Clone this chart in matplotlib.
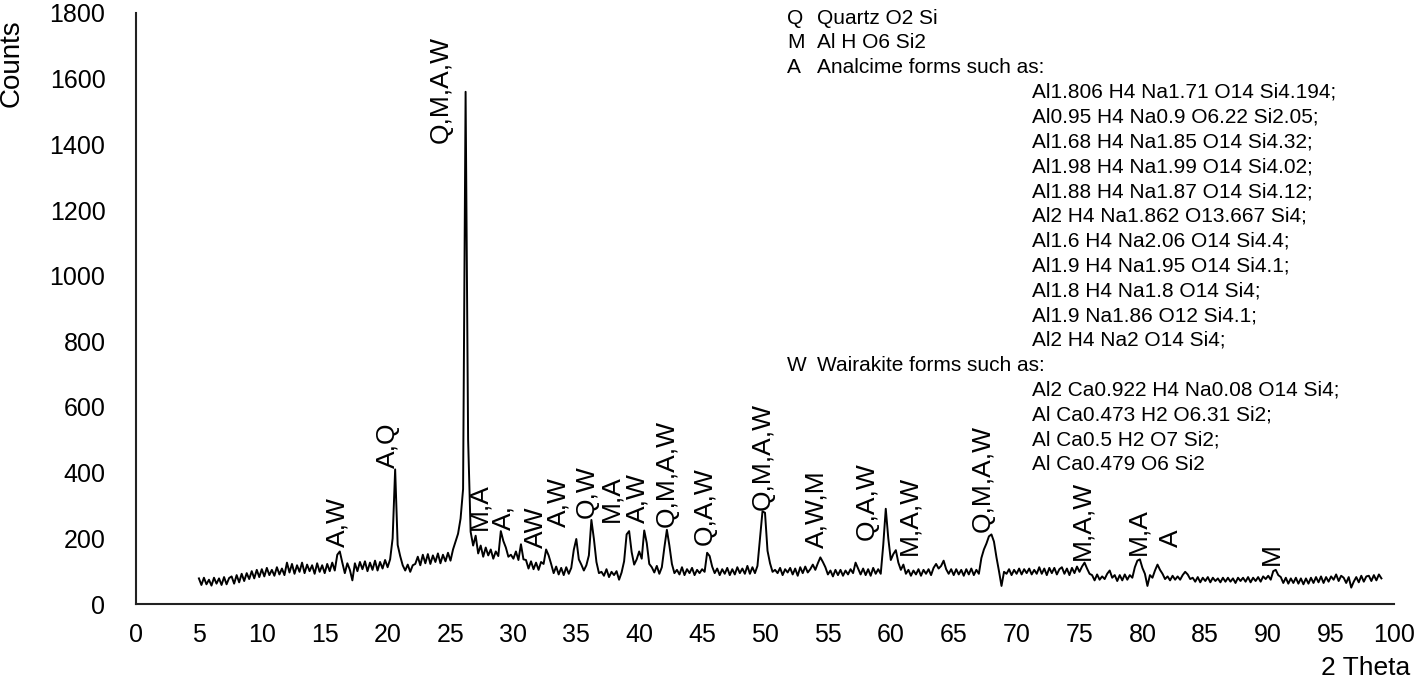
import matplotlib
matplotlib.use("Agg")
import matplotlib.pyplot as plt
import numpy as np

plt.rcParams['font.family'] = ['Liberation Sans', 'DejaVu Sans']

# XRD trace, every 0.2 degree from 5 to 99
two_theta = np.linspace(5.0, 99.0, 471)
counts = [
    78, 58, 80, 60, 74,  56, 80, 62, 78, 58,  82, 60, 79, 84, 62,   # 5-7.8
    88, 66, 92, 70, 94,  76, 100, 78, 104, 82,  106, 84, 110, 88, 104,  # 8-10.8
    86, 112, 90, 108, 88,  126, 96, 122, 92, 118,  98, 126, 94, 120, 100,  # 11-13.8
    118, 92, 124, 98, 118,  94, 122, 100, 126, 102,  150, 160, 126, 94, 124,  # 14-16.8
    104, 72, 124, 100, 128,  106, 130, 100, 126, 104,  132, 102, 128, 108, 134,  # 17-19.8
    112, 136, 200, 410, 180,  146, 118, 102, 120, 98,  118, 122, 144, 118, 150,  # 20-22.8
    124, 152, 122, 148, 128,  154, 124, 150, 130, 156,  132, 166, 190, 214, 260,  # 23-25.8
    350, 1560, 500, 220, 178,  208, 154, 178, 144, 172,  148, 166, 138, 160, 146,  # 26-28.8
    222, 192, 172, 144, 150,  138, 160, 134, 182, 136,  134, 108, 130, 106, 126,  # 29-31.8
    104, 128, 122, 166, 148,  122, 94, 114, 90, 110,  88, 112, 92, 110, 165,  # 32-34.8
    198, 136, 120, 102, 118,  148, 256, 198, 128, 94,  98, 86, 106, 82, 98,  # 35-37.8
    88, 100, 74, 96, 130,  212, 222, 158, 120, 136,  160, 138, 224, 186, 122,  # 38-40.8
    112, 96, 116, 92, 112,  172, 226, 178, 122, 94,  104, 90, 112, 88, 106,  # 41-43.8
    94, 110, 88, 104, 94,  106, 98, 156, 146, 114,  94, 108, 88, 106, 92,  # 44-46.8
    110, 88, 106, 90, 112,  94, 108, 92, 116, 92,  112, 94, 116, 200, 282,  # 47-49.8
    278, 162, 124, 98, 104,  94, 110, 88, 106, 96,  110, 90, 108, 86, 112,  # 50-52.8
    94, 114, 96, 106, 120,  104, 124, 142, 128, 112,  90, 102, 84, 104, 88,  # 53-55.8
    104, 86, 102, 90, 106,  94, 126, 108, 90, 108,  88, 106, 86, 110, 92,  # 56-58.8
    106, 92, 180, 290, 200,  134, 152, 164, 126, 104,  120, 92, 104, 86, 102,  # 59-61.8
    90, 106, 86, 104, 92,  106, 88, 110, 122, 108,  116, 132, 106, 92, 106,  # 62-64.8
    88, 106, 90, 104, 86,  106, 90, 108, 88, 104,  92, 140, 166, 184, 206,  # 65-67.8
    212, 190, 142, 100, 55,  98, 92, 106, 88, 104,  92, 108, 90, 106, 94,  # 68-70.8
    108, 90, 104, 92, 112,  92, 108, 88, 110, 94,  110, 90, 106, 112, 92,  # 71-73.8
    108, 88, 110, 94, 114,  98, 114, 126, 108, 92,  88, 72, 90, 74, 84,  # 74-76.8
    76, 92, 102, 80, 88,  70, 88, 72, 90, 74,  88, 80, 112, 132, 136,  # 77-79.8
    110, 92, 55, 88, 80,  102, 120, 104, 92, 76,  84, 72, 86, 74, 84,  # 80-82.8
    74, 88, 98, 90, 76,  80, 68, 82, 66, 80,  70, 82, 66, 80, 70,  # 83-85.8
    78, 66, 80, 68, 80,  68, 78, 64, 80, 70,  80, 68, 82, 66, 80,  # 86-88.8
    70, 82, 68, 84, 76,  86, 74, 100, 104, 88,  82, 64, 80, 62, 78,  # 89-91.8
    64, 80, 62, 78, 60,  78, 62, 80, 64, 82,  66, 84, 64, 82, 68,  # 92-94.8
    84, 74, 90, 70, 86,  80, 64, 82, 50, 68,  82, 66, 86, 68, 84,  # 95-97.8
    86, 70, 88, 72, 90,  78,  # 98-99
]

# peak labels: text, x position, count at bottom of the label
peak_labels = ["A,W", "A,Q", "Q,M,A,W", "M,A", "A,", "AW", "A,W", "Q,W", "M,A",
               "A,W", "Q,M,A,W", "Q,A,W", "Q,M,A,W", "A,W,M", "Q,A,W", "M,A,W",
               "Q,M,A,W", "M,A,W", "M,A", "A", "M"]
label_x = [16.05, 20.0, 24.2, 27.3, 29.2, 31.8, 33.6, 35.8, 37.8,
           39.9, 42.2, 45.2, 49.8, 54.1, 58.1, 61.5,
           67.3, 75.2, 79.7, 82.3, 90.3]
label_y = [174, 415, 1405, 225, 225, 170, 235, 262, 250,
           246, 235, 180, 286, 170, 195, 150,
           220, 134, 150, 174, 119]

phase_keys = ["Q", "M", "A", "", "", "", "", "", "", "", "", "", "", "",
              "W", "", "", "", ""]
phase_text = ["Quartz O2 Si", "Al H O6 Si2", "Analcime forms such as:",
              "Al1.806 H4 Na1.71 O14 Si4.194;", "Al0.95 H4 Na0.9 O6.22 Si2.05;",
              "Al1.68 H4 Na1.85 O14 Si4.32;", "Al1.98 H4 Na1.99 O14 Si4.02;",
              "Al1.88 H4 Na1.87 O14 Si4.12;", "Al2 H4 Na1.862 O13.667 Si4;",
              "Al1.6 H4 Na2.06 O14 Si4.4;", "Al1.9 H4 Na1.95 O14 Si4.1;",
              "Al1.8 H4 Na1.8 O14 Si4;", "Al1.9 Na1.86 O12 Si4.1;",
              "Al2 H4 Na2 O14 Si4;", "Wairakite forms such as:",
              "Al2 Ca0.922 H4 Na0.08 O14 Si4;", "Al Ca0.473 H2 O6.31 Si2;",
              "Al Ca0.5 H2 O7 Si2;", "Al Ca0.479 O6 Si2"]

W, H = 1416, 681
fig = plt.figure(figsize=(W / 100, H / 100), dpi=100)
ax = fig.add_axes([136 / W, 77 / H, (1394 - 136) / W, (604 - 13) / H])

ax.plot(two_theta, counts, color="black", lw=1.4)

for t, x, y in zip(peak_labels, label_x, label_y):
    ax.text(x, y, t, rotation=90, ha="center", va="bottom", fontsize=19)

ax.set_xlim(0, 100)
ax.set_ylim(0, 1800)
ax.set_xticks(range(0, 101, 5))
ax.set_yticks(range(0, 1801, 200))
ax.tick_params(length=0, labelsize=18, colors="black")
ax.tick_params(axis="x", pad=14)
ax.tick_params(axis="y", pad=22)
for s in ["top", "right"]:
    ax.spines[s].set_visible(False)
for s in ["left", "bottom"]:
    ax.spines[s].set_linewidth(1.5)
    ax.spines[s].set_color("#222222")

fig.text(12 / W, 1 - 63 / H, "Counts", rotation=90, ha="center", va="center", fontsize=20)
fig.text(1410 / W, 1 - 668 / H, "2 Theta", ha="right", va="center", fontsize=19)

# phase legend at top right
y0, dy = 18, 24.8
for i, (k, t) in enumerate(zip(phase_keys, phase_text)):
    yy = 1 - (y0 + i * dy) / H
    if k:
        fig.text(787 / W, yy, k, ha="left", va="center", fontsize=15)
        fig.text(817 / W, yy, t, ha="left", va="center", fontsize=15)
    else:
        fig.text(1032 / W, yy, t, ha="left", va="center", fontsize=15)

fig.savefig("out.png", dpi=100)
